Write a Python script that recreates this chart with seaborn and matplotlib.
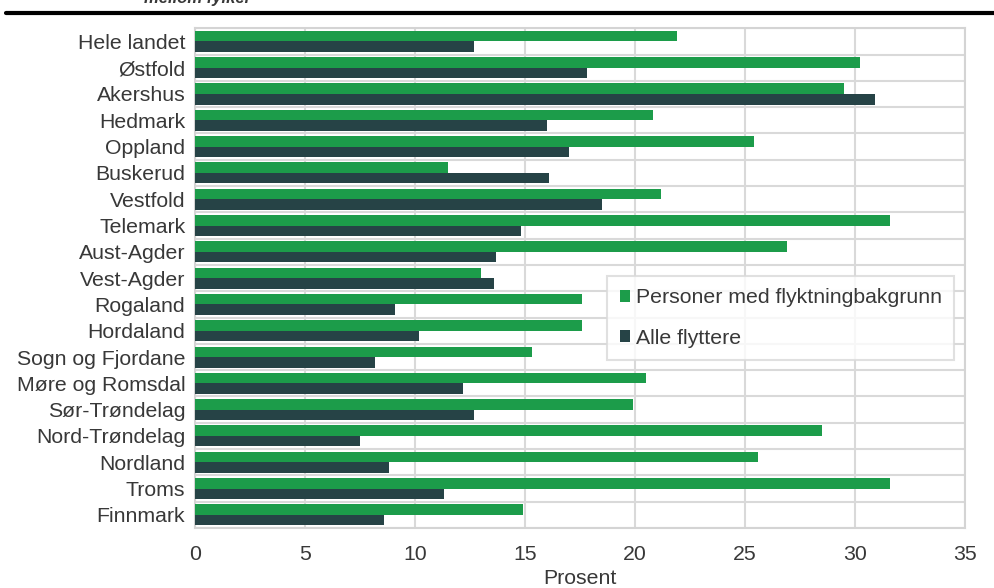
import pandas as pd
import numpy as np
import matplotlib
matplotlib.use("Agg")
import matplotlib.pyplot as plt
import seaborn as sns
from matplotlib.ticker import FixedLocator

#-----Data-----#
fylker = ["Hele landet", "Østfold", "Akershus", "Hedmark", "Oppland", "Buskerud",
          "Vestfold", "Telemark", "Aust-Agder", "Vest-Agder", "Rogaland", "Hordaland",
          "Sogn og Fjordane", "Møre og Romsdal", "Sør-Trøndelag", "Nord-Trøndelag",
          "Nordland", "Troms", "Finnmark"]
flyktning = [21.9, 30.2, 29.5, 20.8, 25.4, 11.5, 21.2, 31.6, 26.9, 13.0, 17.6, 17.6,
             15.3, 20.5, 19.9, 28.5, 25.6, 31.6, 14.9]
alle = [12.7, 17.8, 30.9, 16.0, 17.0, 16.1, 18.5, 14.8, 13.7, 13.6, 9.1, 10.2,
        8.2, 12.2, 12.7, 7.5, 8.8, 11.3, 8.6]
serier = ["Personer med flyktningbakgrunn", "Alle flyttere"]
farger = ["#1c9c4a", "#264346"]

df = pd.DataFrame({
    "Fylke": fylker * 2,
    "Prosent": flyktning + alle,
    "Gruppe": [serier[0]] * len(fylker) + [serier[1]] * len(fylker),
})

#-----Plot-----#
sns.set_style("white")
plt.rcParams["font.family"] = ["Liberation Sans", "DejaVu Sans"]
plt.rcParams["text.color"] = "#383838"
tekstfarge = "#383838"

fig = plt.figure(figsize=(9.95, 5.88), dpi=100)
ax = fig.add_axes([0.196, 0.102, 0.774, 0.850])

sns.barplot(data=df, x="Prosent", y="Fylke", hue="Gruppe", order=fylker,
            hue_order=serier, palette=farger, orient="h", width=0.8,
            saturation=1, linewidth=0, ax=ax, zorder=3)

ax.set_xlim(0, 35)
ax.set_ylim(len(fylker) - 0.5, -0.5)
ax.set_xticks(np.arange(0, 36, 5))
ax.yaxis.set_minor_locator(FixedLocator(np.arange(-0.5, len(fylker), 1)))
ax.grid(axis="x", color="#d9d9d9", linewidth=1.5, zorder=0)
ax.grid(axis="y", which="minor", color="#d9d9d9", linewidth=1.5, zorder=0)
ax.set_axisbelow(True)
for s in ax.spines.values():
    s.set_color("#d4d4d4")
    s.set_linewidth(1.5)

ax.tick_params(axis="both", which="both", length=0, labelsize=15.3, colors=tekstfarge, pad=7)
ax.tick_params(axis="x", pad=12)
ax.set_ylabel("")
ax.set_xlabel("Prosent", fontsize=15.3, color=tekstfarge, labelpad=4)

leg = ax.legend(loc="upper left", bbox_to_anchor=(0.535, 0.505), fontsize=15.3,
                frameon=True, fancybox=False, handlelength=0.5, handleheight=0.5,
                handletextpad=0.25, labelspacing=1.0, borderpad=0.6, borderaxespad=0)
leg.get_frame().set_edgecolor("#d9d9d9")
leg.get_frame().set_linewidth(1.5)

# Title text cut at top and heavy rule
fig.text(0.145, 1.003, "mellom fylker", fontsize=12, fontweight="bold", style="italic",
         va="center", ha="left")
fig.add_artist(plt.Line2D([0.006, 1.0], [0.978, 0.978], color="black", linewidth=3))

fig.savefig("out.png", dpi=100)
